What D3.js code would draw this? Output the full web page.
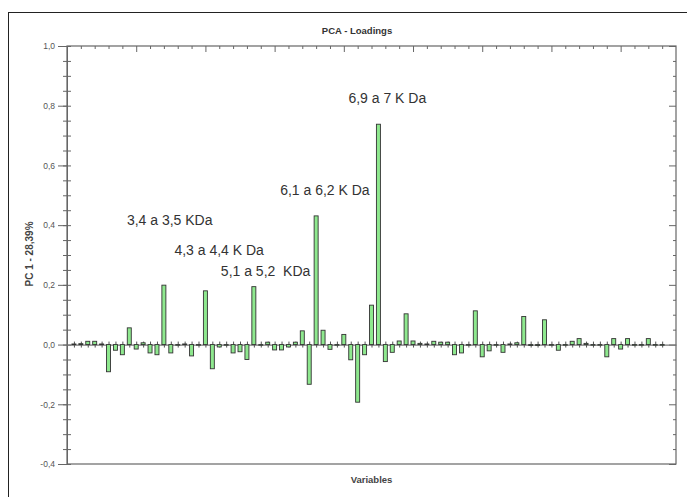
<!DOCTYPE html>
<html>
<head>
<meta charset="utf-8">
<script src="https://cdn.jsdelivr.net/npm/d3@7"></script>
<style>
  body { margin: 0; background: #fff; }
  svg { display: block; font-family: "Liberation Sans", Arial, sans-serif; }
</style>
</head>
<body>
<svg id="chart" width="687" height="497"></svg>
<script>
// ---- data ----
const variables = d3.range(1, 87); // 86 variables
const loadings = [
  0.002, 0.003, 0.011, 0.011, 0.002, -0.091, -0.019, -0.034, 0.056, -0.015,
  0.006, -0.028, -0.034, 0.199, -0.028, 0.000, 0.002, -0.038, 0.000, 0.180,
  -0.081, -0.008, 0.000, -0.028, -0.024, -0.050, 0.194, -0.002, 0.008, -0.018,
  -0.018, -0.008, 0.008, 0.046, -0.133, 0.431, 0.048, -0.016, 0.000, 0.034,
  -0.051, -0.193, -0.034, 0.132, 0.738, -0.057, -0.026, 0.012, 0.103, 0.012,
  0.004, 0.002, 0.011, 0.008, 0.008, -0.034, -0.028, 0.000, 0.113, -0.041,
  -0.021, 0.000, -0.026, 0.002, 0.006, 0.094, -0.003, -0.003, 0.083, 0.000,
  -0.019, 0.000, 0.011, 0.020, 0.004, 0.000, 0.000, -0.041, 0.020, -0.015,
  0.020, -0.002, 0.000, 0.020, 0.000, 0.000
];
const yMajorTicks = [-0.4, -0.2, 0.0, 0.2, 0.4, 0.6, 0.8, 1.0];
const annotations = [
  { text: "3,4 a 3,5 KDa", variable: 14, value: 0.40 },
  { text: "4,3 a 4,4 K Da", variable: 20, value: 0.30 },
  { text: "5,1 a 5,2\u00a0 KDa", variable: 27, value: 0.23 },
  { text: "6,1 a 6,2 K Da", variable: 36, value: 0.50 },
  { text: "6,9 a 7 K Da", variable: 45, value: 0.81 }
];
const annotationOffsets = { 14: -37, 20: -31, 27: -33, 36: -36, 45: -30 };
const titleText = "PCA - Loadings";
const xTitle = "Variables";
const yTitle = "PC 1 - 28,39%";

// ---- layout ----
const svg = d3.select("#chart");
const L = 67, R = 676, T = 46, B = 464;
const x = d3.scaleLinear().domain([0, 88]).range([L, R]);
const y = d3.scaleLinear().domain([-0.4, 1.0]).range([B, T]);
const fmt = d => d3.format(".1f")(d).replace(".", ",").replace("−", "-");
const axisColor = "#666";

// outer frame
svg.append("rect").attr("x", 8.5).attr("y", 12.5).attr("width", 700).attr("height", 500)
  .attr("fill", "none").attr("stroke", "#222").attr("stroke-width", 1);

// title
svg.append("text").attr("x", 357).attr("y", 34).attr("text-anchor", "middle")
  .attr("font-size", 9.5).attr("font-weight", "bold").attr("fill", "#333")
  .text(titleText);

// plot frame
svg.append("rect").attr("x", L).attr("y", T).attr("width", R - L).attr("height", B - T)
  .attr("fill", "none").attr("stroke", axisColor).attr("stroke-width", 1.2);

const yMinor = d3.range(-0.4, 1.0001, 0.05).map(v => +v.toFixed(2));

// left axis major
const gl = svg.append("g").attr("transform", `translate(${L},0)`)
  .call(d3.axisLeft(y).tickValues(yMajorTicks).tickSize(9).tickPadding(3).tickFormat(fmt));
gl.select(".domain").attr("stroke", axisColor);
gl.selectAll(".tick line").attr("stroke", axisColor);
gl.selectAll(".tick text").attr("font-size", 8.5).attr("fill", "#555").attr("font-family", "'Liberation Sans', Arial, sans-serif");
// left minor ticks crossing
const glm = svg.append("g").attr("transform", `translate(${L},0)`)
  .call(d3.axisLeft(y).tickValues(yMinor).tickSize(0).tickFormat(""));
glm.select(".domain").remove();
glm.selectAll(".tick line").attr("x1", -4).attr("x2", 4).attr("stroke", axisColor);

// right axis (ticks inward)
const gr = svg.append("g").attr("transform", `translate(${R},0)`)
  .call(d3.axisLeft(y).tickValues(yMinor).tickSize(3).tickFormat(""));
gr.select(".domain").remove();
gr.selectAll(".tick line").attr("stroke", axisColor)
  .attr("x2", d => yMajorTicks.some(m => Math.abs(m - d) < 1e-6) ? -7 : -3);

// top axis (ticks pointing down)
const xMinor = d3.range(0, 88, 2);
const gt = svg.append("g").attr("transform", `translate(0,${T})`)
  .call(d3.axisBottom(x).tickValues(xMinor).tickSize(3).tickFormat(""));
gt.select(".domain").remove();
gt.selectAll(".tick line").attr("stroke", axisColor)
  .attr("y2", d => d % 10 === 0 ? 6 : 3);

// zero line with ticks at every variable
const gz = svg.append("g").attr("transform", `translate(0,${y(0)})`)
  .call(d3.axisBottom(x).tickValues(variables).tickSize(0).tickFormat(""));
gz.select(".domain").attr("stroke", "#777").attr("stroke-width", 1.2);
gz.selectAll(".tick line").attr("y1", -3).attr("y2", 3).attr("stroke", "#555");

// bars
const bw = 4;
svg.append("g").selectAll("rect").data(variables).join("rect")
  .attr("x", d => x(d) - bw / 2)
  .attr("y", (d, i) => y(Math.max(0, loadings[i])))
  .attr("width", bw)
  .attr("height", (d, i) => Math.max(0.6, Math.abs(y(loadings[i]) - y(0))))
  .attr("fill", "#8ee88e")
  .attr("stroke", "#333")
  .attr("stroke-width", 0.9);

// annotations
svg.append("g").selectAll("text").data(annotations).join("text")
  .attr("x", d => x(d.variable) + annotationOffsets[d.variable])
  .attr("y", d => y(d.value))
  .attr("font-size", 14).attr("fill", "#333")
  .attr("text-anchor", "start")
  .text(d => d.text);

// axis titles
svg.append("text").attr("x", (L + R) / 2).attr("y", 483).attr("text-anchor", "middle")
  .attr("font-size", 9.5).attr("font-weight", "bold").attr("fill", "#444").text(xTitle);
svg.append("text").attr("transform", `translate(33,254) rotate(-90)`).attr("text-anchor", "middle")
  .attr("font-size", 10).attr("font-weight", "bold").attr("fill", "#444").text(yTitle);
</script>
</body>
</html>
